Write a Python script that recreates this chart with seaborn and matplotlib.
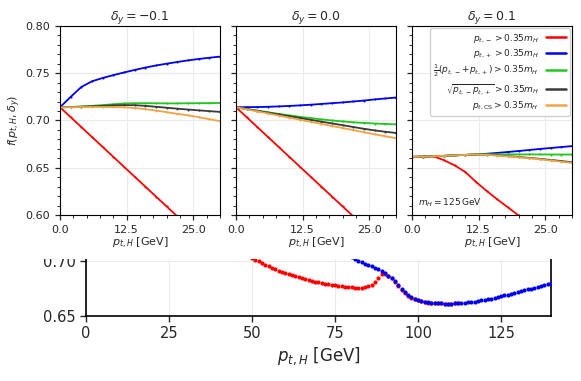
import matplotlib
matplotlib.use("Agg")
from matplotlib import pyplot as plt
from matplotlib.lines import Line2D
from matplotlib.patches import Rectangle
from matplotlib.ticker import AutoMinorLocator, MultipleLocator
import pandas as pd
import seaborn as sns

sns.set_style("ticks", {"axes.grid": True, "grid.color": "#ebebeb", "axes.edgecolor": "black"})
plt.rcParams["font.family"] = "DejaVu Sans"
plt.rcParams["mathtext.fontset"] = "dejavusans"

# top panels: f(pt_H, delta_y) vs pt_H, one panel per delta_y
pt = [0, 2, 4, 6, 8, 10, 12, 14, 16, 18, 20, 22, 24, 26, 28, 30]
deltas = ["-0.1", "0.0", "0.1"]

red_m01 = [0.714, 0.7035, 0.693, 0.6825, 0.672, 0.6615, 0.651, 0.6405, 0.630, 0.6195, 0.609, 0.5985, 0.588, 0.5775, 0.567, 0.5565]
blue_m01 = [0.714, 0.725, 0.7355, 0.7415, 0.745, 0.748, 0.7508, 0.7535, 0.756, 0.7582, 0.7601, 0.7619, 0.7636, 0.7651, 0.7664, 0.7676]
green_m01 = [0.714, 0.7143, 0.7148, 0.7155, 0.7163, 0.7172, 0.718, 0.7183, 0.7183, 0.7182, 0.7181, 0.7181, 0.7182, 0.7183, 0.7184, 0.7185]
black_m01 = [0.714, 0.7142, 0.7146, 0.715, 0.7155, 0.716, 0.7163, 0.7162, 0.7155, 0.7145, 0.7135, 0.7125, 0.7116, 0.7107, 0.7099, 0.7091]
orange_m01 = [0.714, 0.7141, 0.7142, 0.7143, 0.7143, 0.7142, 0.714, 0.7132, 0.712, 0.7105, 0.7088, 0.707, 0.7055, 0.7035, 0.7014, 0.6993]

red_00 = [0.714, 0.7035, 0.693, 0.6825, 0.672, 0.6615, 0.651, 0.6405, 0.630, 0.6195, 0.609, 0.5985, 0.588, 0.5775, 0.567, 0.5565]
blue_00 = [0.714, 0.7141, 0.7142, 0.7145, 0.7149, 0.7154, 0.716, 0.7167, 0.7175, 0.7183, 0.7191, 0.7201, 0.7211, 0.7223, 0.7233, 0.7243]
green_00 = [0.714, 0.7122, 0.7104, 0.7087, 0.707, 0.7054, 0.7039, 0.7025, 0.7012, 0.7000, 0.699, 0.6981, 0.6974, 0.6968, 0.6963, 0.6959]
black_00 = [0.714, 0.7121, 0.7102, 0.7083, 0.7064, 0.7045, 0.7026, 0.7007, 0.6988, 0.6969, 0.695, 0.6931, 0.6912, 0.6895, 0.6881, 0.6868]
orange_00 = [0.714, 0.7118, 0.7096, 0.7074, 0.7052, 0.703, 0.7008, 0.6986, 0.6964, 0.6942, 0.692, 0.6898, 0.6876, 0.6854, 0.6833, 0.6813]

red_p01 = [0.6615, 0.6618, 0.6622, 0.658, 0.6525, 0.6455, 0.635, 0.6255, 0.6165, 0.608, 0.5995, 0.590, 0.580, 0.570, 0.560, 0.550]
blue_p01 = [0.6615, 0.6618, 0.6622, 0.6626, 0.6631, 0.6636, 0.6641, 0.6648, 0.6657, 0.6667, 0.6677, 0.6688, 0.6699, 0.6709, 0.6719, 0.6729]
green_p01 = [0.6615, 0.6618, 0.6622, 0.6626, 0.6631, 0.6636, 0.6641, 0.6643, 0.6642, 0.6642, 0.6641, 0.6641, 0.6641, 0.664, 0.664, 0.664]
black_p01 = [0.6615, 0.6618, 0.6622, 0.6626, 0.6631, 0.6636, 0.6641, 0.6638, 0.6631, 0.6623, 0.6614, 0.6604, 0.6594, 0.6583, 0.6571, 0.6558]
orange_p01 = [0.6615, 0.6618, 0.6622, 0.6626, 0.6631, 0.6636, 0.6641, 0.6637, 0.6629, 0.662, 0.661, 0.66, 0.6589, 0.6577, 0.6564, 0.6551]

panels = [
    [red_m01, blue_m01, green_m01, black_m01, orange_m01],
    [red_00, blue_00, green_00, black_00, orange_00],
    [red_p01, blue_p01, green_p01, black_p01, orange_p01],
]

colors = ["#ff0000", "#0000ee", "#1ec81e", "#3a3a3a", "#f0a442"]
labels = [
    r"$p_{t,-} > 0.35m_H$",
    r"$p_{t,+} > 0.35m_H$",
    r"$\frac{1}{2}(p_{t,-}\!+\!p_{t,+}) > 0.35m_H$",
    r"$\sqrt{p_{t,-}p_{t,+}} > 0.35m_H$",
    r"$p_{t,\mathrm{CS}} > 0.35m_H$",
]

# lower (cropped) panel
pt_red_low = list(range(50, 113))
red_low = [0.7030, 0.7013, 0.6997, 0.6981, 0.6966, 0.6952, 0.6938, 0.6925, 0.6913, 0.6901,
           0.6890, 0.6879, 0.6869, 0.6860, 0.6851, 0.6842, 0.6834, 0.6826, 0.6819, 0.6812,
           0.6806, 0.6800, 0.6794, 0.6789, 0.6784, 0.6780, 0.6775, 0.6771, 0.6767, 0.6764,
           0.6761, 0.6759, 0.6758, 0.6759, 0.6763, 0.6770, 0.6782, 0.6805, 0.6850, 0.6878,
           0.6880, 0.6868, 0.6845, 0.6812, 0.6775, 0.6738, 0.6708, 0.6684, 0.6666, 0.6652,
           0.6641, 0.6633, 0.6627, 0.6622, 0.6619, 0.6617, 0.6615, 0.6614, 0.6613, 0.6613,
           0.6613, 0.6614, 0.6615]
pt_blue_low = list(range(80, 141))
blue_low = [0.7035, 0.7017, 0.7000, 0.6988, 0.6977, 0.6966, 0.6954, 0.6940, 0.6925, 0.6908,
            0.6889, 0.6867, 0.6843, 0.6814, 0.6780, 0.6745, 0.6714, 0.6690, 0.6671, 0.6656,
            0.6645, 0.6636, 0.6629, 0.6624, 0.6620, 0.6617, 0.6615, 0.6614, 0.6613, 0.6613,
            0.6613, 0.6614, 0.6615, 0.6617, 0.6620, 0.6623, 0.6627, 0.6631, 0.6636, 0.6641,
            0.6647, 0.6653, 0.6659, 0.6666, 0.6673, 0.6680, 0.6687, 0.6694, 0.6702, 0.6710,
            0.6718, 0.6726, 0.6734, 0.6742, 0.6750, 0.6759, 0.6768, 0.6777, 0.6786, 0.6795,
            0.6804]

fig = plt.figure(figsize=(5.81, 3.81), dpi=100)

# bottom panel first, the top figure is pasted over its upper part
axb = fig.add_axes([0.148, 0.1706, 0.8003, 0.2887], zorder=0)
sns.scatterplot(x=pt_red_low, y=red_low, color="#ff0000", s=9, linewidth=0, ax=axb, zorder=3)
sns.scatterplot(x=pt_blue_low, y=blue_low, color="#0000ee", s=9, linewidth=0, ax=axb, zorder=3)
axb.set_xlim(0, 140)
axb.set_ylim(0.65, 0.75)
axb.set_xticks([0, 25, 50, 75, 100, 125])
axb.set_yticks([0.65, 0.70])
axb.set_yticklabels(["0.65", "0.70"])
axb.tick_params(labelsize=10.5, length=4, width=1)
axb.set_xlabel(r"$p_{t,H}$ [GeV]", fontsize=12, labelpad=3)
for s in axb.spines.values():
    s.set_linewidth(1.2)

cover = Rectangle((0, 0.3195), 1, 0.69, transform=fig.transFigure, facecolor="white", edgecolor="none", zorder=1)
fig.add_artist(cover)

lefts = [0.1033, 0.4062, 0.7091]
for i, (left, dy, series) in enumerate(zip(lefts, deltas, panels)):
    ax = fig.add_axes([left, 0.4357, 0.2754, 0.4961], zorder=2)
    for vals, c in zip(series, colors):
        df = pd.DataFrame({"pt": pt, "f": vals})
        sns.lineplot(data=df, x="pt", y="f", color=c, linewidth=1.3, marker=".",
                     markersize=3, markeredgewidth=0, ax=ax)
    ax.set_xlim(0, 30)
    ax.set_ylim(0.60, 0.80)
    ax.set_xticks([0.0, 12.5, 25.0])
    ax.set_xticklabels(["0.0", "12.5", "25.0"])
    ax.xaxis.set_minor_locator(MultipleLocator(2.5))
    ax.yaxis.set_minor_locator(AutoMinorLocator(5))
    ax.set_yticks([0.60, 0.65, 0.70, 0.75, 0.80])
    ax.tick_params(labelsize=8, length=3.5, width=0.9)
    ax.tick_params(which="minor", length=2, width=0.7)
    ax.grid(True, which="major", color="#ebebeb", linewidth=0.8)
    ax.set_title(r"$\delta_y = " + dy + "$", fontsize=9, pad=4)
    ax.set_xlabel(r"$p_{t,H}$ [GeV]", fontsize=8, labelpad=1)
    if i == 0:
        ax.set_yticklabels(["0.60", "0.65", "0.70", "0.75", "0.80"])
        ax.set_ylabel(r"$f(p_{t,H},\delta_y)$", fontsize=8, labelpad=2)
    else:
        ax.set_yticklabels([])
        ax.set_ylabel("")
    if i == 2:
        handles = [Line2D([0], [0], color=c, linewidth=1.8) for c in colors]
        ax.legend(handles, labels, loc="upper right", fontsize=6.5, markerfirst=False,
                  handlelength=2.2, labelspacing=0.3, borderpad=0.4, framealpha=0.9,
                  borderaxespad=0.25)
        ax.text(0.04, 0.05, r"$m_H = 125\,\mathrm{GeV}$", transform=ax.transAxes, fontsize=6.5)

fig.savefig("out.png", dpi=100)
plt.close()
